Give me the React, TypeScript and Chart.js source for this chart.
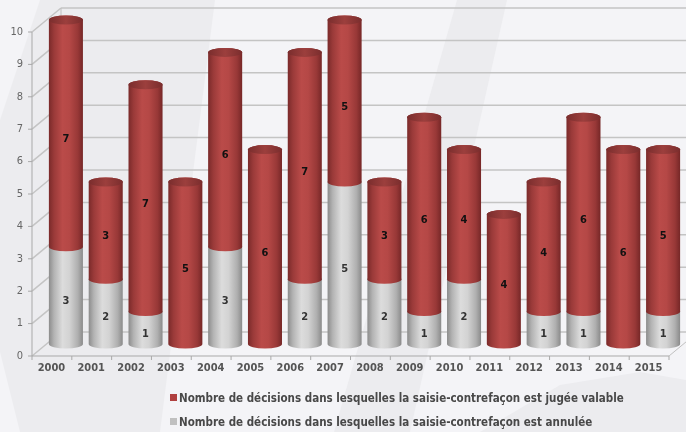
import { useEffect, useRef } from "react";
import { Chart, registerables } from "chart.js";

Chart.register(...registerables);

const years = ["2000", "2001", "2002", "2003", "2004", "2005", "2006", "2007", "2008", "2009", "2010", "2011", "2012", "2013", "2014", "2015"];
const annulee = [3, 2, 1, 0, 3, 0, 2, 5, 2, 1, 2, 0, 1, 1, 0, 1];
const valable = [7, 3, 7, 5, 6, 6, 7, 5, 3, 6, 4, 4, 4, 6, 6, 5];
const labelValable = "Nombre de décisions dans lesquelles la saisie-contrefaçon est jugée valable";
const labelAnnulee = "Nombre de décisions dans lesquelles la saisie-contrefaçon est annulée";
const yMax = 10;

const FONT = "'DejaVu Sans Condensed', 'DejaVu Sans', sans-serif";
const BACK = { dx: 15, dy: -12 };
const FRONT = { dx: -14, dy: 12 };
const RY = 4.5;

type Palette = { stops: [number, string][]; top: [string, string]; legend: string; text: string };
const RED: Palette = {
  stops: [[0, "#7a2a2a"], [0.15, "#9a3a39"], [0.4, "#ba4b49"], [0.6, "#b54846"], [0.85, "#983837"], [1, "#762727"]],
  top: ["#7a2d2d", "#9c3f3d"],
  legend: "#b04040",
  text: "#111111",
};
const GREY: Palette = {
  stops: [[0, "#8c8c8c"], [0.15, "#b3b3b3"], [0.4, "#dcdcdc"], [0.6, "#d3d3d3"], [0.85, "#afafaf"], [1, "#8a8a8a"]],
  top: ["#a8a8a8", "#d0d0d0"],
  legend: "#c0c0c0",
  text: "#333333",
};

function line(ctx: CanvasRenderingContext2D, x1: number, y1: number, x2: number, y2: number) {
  ctx.beginPath();
  ctx.moveTo(x1, y1);
  ctx.lineTo(x2, y2);
  ctx.stroke();
}

function poly(ctx: CanvasRenderingContext2D, pts: number[][]) {
  ctx.beginPath();
  pts.forEach(([x, y], i) => (i ? ctx.lineTo(x, y) : ctx.moveTo(x, y)));
  ctx.closePath();
  ctx.fill();
}

function cylinder(ctx: CanvasRenderingContext2D, x: number, w: number, yTop: number, yBot: number, pal: Palette, drawTop: boolean) {
  const rx = w / 2;
  const g = ctx.createLinearGradient(x - rx, 0, x + rx, 0);
  pal.stops.forEach(([o, c]) => g.addColorStop(o, c));
  ctx.fillStyle = g;
  ctx.beginPath();
  ctx.moveTo(x - rx, yTop);
  ctx.lineTo(x - rx, yBot);
  ctx.ellipse(x, yBot, rx, RY, 0, Math.PI, 0, true);
  ctx.lineTo(x + rx, yTop);
  ctx.ellipse(x, yTop, rx, RY, 0, 0, Math.PI, true);
  ctx.closePath();
  ctx.fill();
  if (drawTop) {
    const tg = ctx.createLinearGradient(x - rx, 0, x + rx, 0);
    tg.addColorStop(0, pal.top[0]);
    tg.addColorStop(0.5, pal.top[1]);
    tg.addColorStop(1, pal.top[0]);
    ctx.fillStyle = tg;
    ctx.beginPath();
    ctx.ellipse(x, yTop, rx, RY, 0, 0, Math.PI * 2);
    ctx.fill();
  }
}

const cylPlugin = {
  id: "cyl3d",
  beforeDraw(chart: any) {
    const { ctx, width, height } = chart;
    ctx.save();
    ctx.fillStyle = "#f4f4f7";
    ctx.fillRect(0, 0, width, height);
    ctx.fillStyle = "#ececef";
    poly(ctx, [[40, 0], [215, 0], [160, 432], [20, 432], [0, 352], [0, 120]]);
    poly(ctx, [[457, 0], [507, 0], [410, 432], [334, 432]]);
    poly(ctx, [[480, 432], [560, 385], [640, 372], [686, 380], [686, 432]]);
    ctx.restore();
  },
  beforeDatasetsDraw(chart: any) {
    const { ctx, chartArea: a, scales } = chart;
    const xs = scales.x, ys = scales.y;
    const yb = (v: number) => ys.getPixelForValue(v);
    const vals: number[] = ys.ticks.map((t: any) => t.value);
    ctx.save();
    ctx.strokeStyle = "#c4c4c4";
    ctx.lineWidth = 1.5;
    vals.forEach((v) => {
      line(ctx, a.left + BACK.dx, yb(v) + BACK.dy, a.right + BACK.dx, yb(v) + BACK.dy);
      line(ctx, a.left + FRONT.dx, yb(v) + FRONT.dy, a.left + BACK.dx, yb(v) + BACK.dy);
    });
    ctx.lineWidth = 1;
    ctx.strokeStyle = "#c0c0c0";
    line(ctx, a.left + BACK.dx, yb(0) + BACK.dy, a.left + BACK.dx, yb(yMax) + BACK.dy);
    line(ctx, a.right + FRONT.dx, yb(0) + FRONT.dy, a.right + BACK.dx, yb(0) + BACK.dy);
    ctx.strokeStyle = "#a9a9a9";
    line(ctx, a.left + FRONT.dx, yb(0) + FRONT.dy, a.right + FRONT.dx, yb(0) + FRONT.dy);
    line(ctx, a.left + FRONT.dx, yb(0) + FRONT.dy, a.left + FRONT.dx, yb(yMax) + FRONT.dy);
    vals.forEach((v) => line(ctx, a.left + FRONT.dx - 4, yb(v) + FRONT.dy, a.left + FRONT.dx, yb(v) + FRONT.dy));
    const step = xs.getPixelForValue(1) - xs.getPixelForValue(0);
    for (let i = 0; i <= years.length; i++) {
      const bx = xs.getPixelForValue(i) - step / 2 + FRONT.dx;
      line(ctx, bx, yb(0) + FRONT.dy, bx, yb(0) + FRONT.dy + 4);
    }
    ctx.restore();
  },
  afterDatasetsDraw(chart: any) {
    const { ctx } = chart;
    const m0 = chart.getDatasetMeta(0);
    const m1 = chart.getDatasetMeta(1);
    const d0 = chart.data.datasets[0].data as number[];
    const d1 = chart.data.datasets[1].data as number[];
    ctx.save();
    years.forEach((_, i) => {
      const g = m0.data[i].getProps(["x", "y", "base", "width"], true);
      const r = m1.data[i].getProps(["x", "y", "base", "width"], true);
      if (d0[i] > 0) cylinder(ctx, g.x, g.width, g.y, g.base, GREY, d1[i] <= 0);
      if (d1[i] > 0) cylinder(ctx, r.x, r.width, r.y, r.base, RED, true);
    });
    ctx.font = `bold 11px ${FONT}`;
    ctx.textAlign = "center";
    ctx.textBaseline = "middle";
    years.forEach((_, i) => {
      const g = m0.data[i].getProps(["x", "y", "base"], true);
      const r = m1.data[i].getProps(["x", "y", "base"], true);
      if (d0[i] > 0) {
        ctx.fillStyle = GREY.text;
        ctx.fillText(String(d0[i]), g.x, (g.y + g.base) / 2 + 6);
      }
      if (d1[i] > 0) {
        ctx.fillStyle = RED.text;
        ctx.fillText(String(d1[i]), r.x, (r.y + r.base) / 2 + 6);
      }
    });
    ctx.restore();
  },
  afterDraw(chart: any) {
    const { ctx } = chart;
    const items = [
      { text: chart.data.datasets[1].label, color: RED.legend },
      { text: chart.data.datasets[0].label, color: GREY.legend },
    ];
    ctx.save();
    ctx.font = `bold 11.5px ${FONT}`;
    ctx.textAlign = "left";
    ctx.textBaseline = "middle";
    items.forEach((it, k) => {
      const cy = 398 + k * 24;
      ctx.fillStyle = it.color;
      ctx.fillRect(170, cy - 4, 7, 7);
      ctx.fillStyle = "#484848";
      ctx.fillText(it.text, 179, cy + 1);
    });
    ctx.restore();
  },
};

export default function App() {
  const ref = useRef<HTMLCanvasElement>(null);
  useEffect(() => {
    document.body.style.margin = "0";
    if (!ref.current) return;
    const chart = new Chart(ref.current, {
      type: "bar",
      data: {
        labels: years,
        datasets: [
          { label: labelAnnulee, data: annulee, backgroundColor: "rgba(0,0,0,0)", categoryPercentage: 1, barPercentage: 0.855 },
          { label: labelValable, data: valable, backgroundColor: "rgba(0,0,0,0)", categoryPercentage: 1, barPercentage: 0.855 },
        ],
      },
      options: {
        responsive: false,
        animation: false,
        devicePixelRatio: 1,
        layout: { padding: { top: 20, right: 3, left: 0, bottom: 0 } },
        plugins: { legend: { display: false }, tooltip: { enabled: false } },
        scales: {
          x: {
            stacked: true,
            grid: { display: false, drawTicks: false },
            border: { display: false },
            ticks: {
              labelOffset: -14.5,
              padding: 18,
              color: "#555555",
              font: { family: FONT, size: 11, weight: "bold" },
              maxRotation: 0,
              autoSkip: false,
            },
            afterFit: (s: any) => {
              s.height = 88;
              s.paddingLeft = 0;
              s.paddingRight = 0;
            },
          },
          y: {
            stacked: true,
            min: 0,
            max: yMax,
            grid: { display: false, drawTicks: false },
            border: { display: false },
            ticks: {
              stepSize: 1,
              labelOffset: 12,
              padding: 23,
              color: "#666666",
              font: { family: FONT, size: 11 },
            },
            afterFit: (s: any) => {
              s.width = 46;
              s.paddingTop = 0;
              s.paddingBottom = 0;
            },
          },
        },
      },
      plugins: [cylPlugin],
    } as any);
    return () => chart.destroy();
  }, []);
  return (
    <div style={{ width: 686, height: 432 }}>
      <canvas ref={ref} width={686} height={432} style={{ display: "block" }} />
    </div>
  );
}
